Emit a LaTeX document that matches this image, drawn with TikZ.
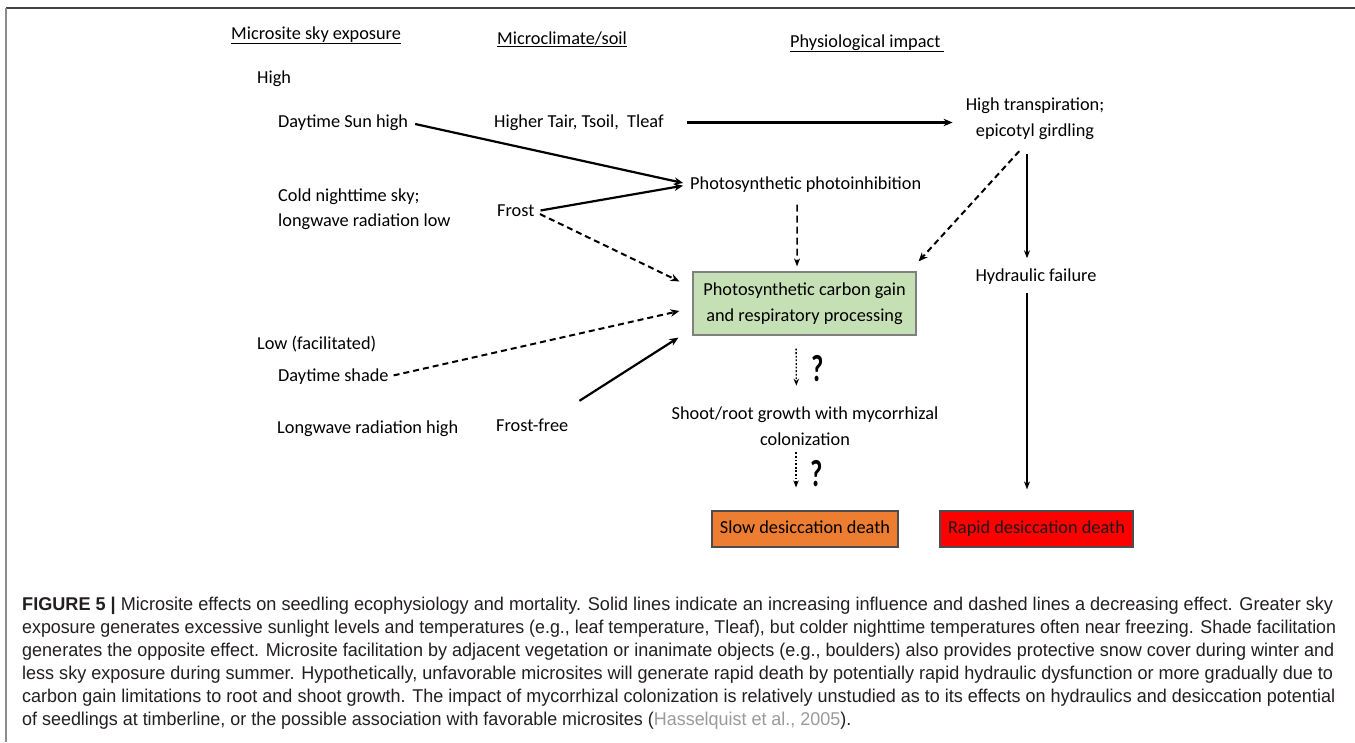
\documentclass[tikz,border=0pt]{standalone}
\usepackage{fontspec}
\usepackage{graphicx}
\setmainfont{Carlito}
\newfontfamily\capfont[FakeStretch=0.8]{Liberation Sans}
\usetikzlibrary{arrows.meta,calc}
\definecolor{boxgreen}{HTML}{C5E0B4}
\definecolor{boxorange}{HTML}{ED7D31}
\definecolor{boxred}{HTML}{FF0000}
\definecolor{capgray}{HTML}{231F20}
\definecolor{citegray}{HTML}{9A9A9A}
\begin{document}
\begin{tikzpicture}[x=1pt,y=-1pt,
  txt/.style={inner sep=0pt, font=\fontsize{18.3}{25}\selectfont, text height=12.5pt, text depth=3.5pt},
  mtxt/.style={inner sep=0pt, font=\fontsize{18.3}{25.5}\selectfont, align=center},
  qmark/.style={inner sep=0pt, font=\fontsize{28}{28}\selectfont},
  filledbox/.style={draw=#1, line width=1.2pt, inner sep=0pt, font=\fontsize{18.3}{25.5}\selectfont, align=center},
  solidarrow/.style={line width=2.2pt, -{Stealth[length=9pt,width=7.5pt]}},
  thinarrow/.style={line width=1.5pt, -{Stealth[length=8pt,width=6pt]}},
  dasharrow/.style={line width=2pt, dash pattern=on 6pt off 4pt, -{Stealth[length=9pt,width=7.5pt]}},
  thindash/.style={line width=1.5pt, dash pattern=on 7pt off 4pt, -{Stealth[length=8pt,width=6pt]}},
  dotarrow/.style={line width=1.3pt, dash pattern=on 1.8pt off 1.8pt, -{Stealth[length=7pt,width=5.5pt]}},
  capline/.style={anchor=base west, inner sep=0pt, font=\capfont\fontsize{18.5}{22}\selectfont, text=capgray},
]
\useasboundingbox (0,0) rectangle (1355,742);
\fill[white] (0,0) rectangle (1355,742);
% frame
\draw[line width=2pt, color=black!75] (6,8) -- (1355,8);
\draw[line width=1.5pt, color=black!45] (6,8) -- (6,742);

% headers
\node[txt, anchor=base west] (hsky) at (231,39) {\underline{Microsite sky exposure}};
\node[txt, anchor=base west] (hclim) at (497,44) {\underline{Microclimate/soil}};
\node[txt, anchor=base west] (hphys) at (790,47) {\underline{Physiological impact\,}};

% left column
\node[txt, anchor=base west] (high) at (257,83) {High};
\node[txt, anchor=base west] (sun) at (278,127) {Daytime Sun high};
\node[mtxt, align=left, anchor=west] (cold) at (278,209) {Cold nighttime sky;\\longwave radiation low};
\node[txt, anchor=base west] (low) at (257,349) {Low (facilitated)};
\node[txt, anchor=base west] (shade) at (278,381) {Daytime shade};
\node[txt, anchor=base west] (lwh) at (277,433) {Longwave radiation high};

% middle column
\node[txt, anchor=base west] (tair) at (494,127) {Higher Tair, Tsoil,~ Tleaf};
\node[txt, anchor=base west] (frost) at (497,216) {Frost};
\node[txt, anchor=base west] (ffree) at (496,431) {Frost-free};

% right
\node[txt, anchor=base west] (photo) at (690,189) {Photosynthetic photoinhibition};
\node[mtxt] (trans) at (1035,118.5) {High transpiration;\\epicotyl girdling};
\node[txt, anchor=base] (hyd) at (1036,281) {Hydraulic failure};
\node[filledbox=black!50, fill=boxgreen, minimum width=223pt, minimum height=63pt] (box) at (804.5,303.5) {Photosynthetic carbon gain\\and respiratory processing};
\node[qmark] (q1) at (818,369) {\scalebox{0.95}[1.35]{\textbf{?}}};
\node[mtxt] (shoot) at (805,426) {Shoot/root growth with mycorrhizal\\colonization};
\node[qmark] (q2) at (817,474) {\scalebox{0.95}[1.35]{\textbf{?}}};
\node[filledbox=black!70, fill=boxorange, text height=12.5pt, text depth=3.5pt, minimum width=186pt, minimum height=36pt] (slow) at (805,529) {Slow desiccation death};
\node[filledbox=black!70, fill=boxred, text=black!90, text height=12.5pt, text depth=3.5pt, minimum width=193pt, minimum height=36pt] (rapid) at (1036.5,529) {Rapid desiccation death};

% connectors
\coordinate (ffs) at ($(ffree.north east)+(11,-17.5)$);
\draw[solidarrow, shorten <=7pt, shorten >=7pt] (sun.east) -- (photo.west);
\draw[solidarrow, shorten <=6pt, shorten >=7pt] (frost.east) -- (photo.west);
\draw[dasharrow, shorten <=6pt] (frost.east) -- ($(box.north west)+(-13,10)$);
\draw[solidarrow, shorten <=23pt, shorten >=13pt] (tair.east) -- (tair.east -| trans.west);
\draw[thindash, shorten <=12pt, shorten >=5pt] ([xshift=-8.5pt]photo.south) -- ([xshift=-7.5pt]box.north);
\draw[dasharrow, shorten <=16pt] ([xshift=-5pt]trans.south) -- ($(box.north east)+(2,-10)$);
\draw[thinarrow, shorten <=15pt, shorten >=10pt] ([xshift=-8pt]trans.south) -- ([xshift=-9pt]hyd.north);
\draw[thinarrow, shorten <=8pt, shorten >=21pt] ([xshift=-9pt]hyd.south) -- ([xshift=-9.5pt]rapid.north);
\draw[dasharrow, shorten <=5pt] (shade.east) -- ($(box.west)+(-13,7.5)$);
\draw[solidarrow] (ffs) -- ($(box.south west)+(-14,2)$);
\draw[dotarrow, shorten <=13pt, shorten >=21pt] ([xshift=-8.5pt]box.south) -- ([xshift=-8.5pt]shoot.north);
\draw[dotarrow, shorten <=7pt, shorten >=23pt] ([xshift=-9pt]shoot.south) -- ([xshift=-9pt]slow.north);

% caption
\node[capline] (cap1) at (22,610.5) {\resizebox{1311pt}{\height}{\textbf{FIGURE 5 |} Microsite effects on seedling ecophysiology and mortality. Solid lines indicate an increasing influence and dashed lines a decreasing effect. Greater sky}};
\node[capline] (cap2) at (22,633.4) {\resizebox{1314pt}{\height}{exposure generates excessive sunlight levels and temperatures (e.g., leaf temperature, Tleaf), but colder nighttime temperatures often near freezing. Shade facilitation}};
\node[capline] (cap3) at (22,656.3) {\resizebox{1312pt}{\height}{generates the opposite effect. Microsite facilitation by adjacent vegetation or inanimate objects (e.g., boulders) also provides protective snow cover during winter and}};
\node[capline] (cap4) at (22,679.2) {\resizebox{1311pt}{\height}{less sky exposure during summer. Hypothetically, unfavorable microsites will generate rapid death by potentially rapid hydraulic dysfunction or more gradually due to}};
\node[capline] (cap5) at (22,702.1) {\resizebox{1313pt}{\height}{carbon gain limitations to root and shoot growth. The impact of mycorrhizal colonization is relatively unstudied as to its effects on hydraulics and desiccation potential}};
\node[capline] (cap6) at (22,725) {\resizebox{829pt}{\height}{of seedlings at timberline, or the possible association with favorable microsites ({\color{citegray}Hasselquist et al., 2005}).}};
\end{tikzpicture}
\end{document}
